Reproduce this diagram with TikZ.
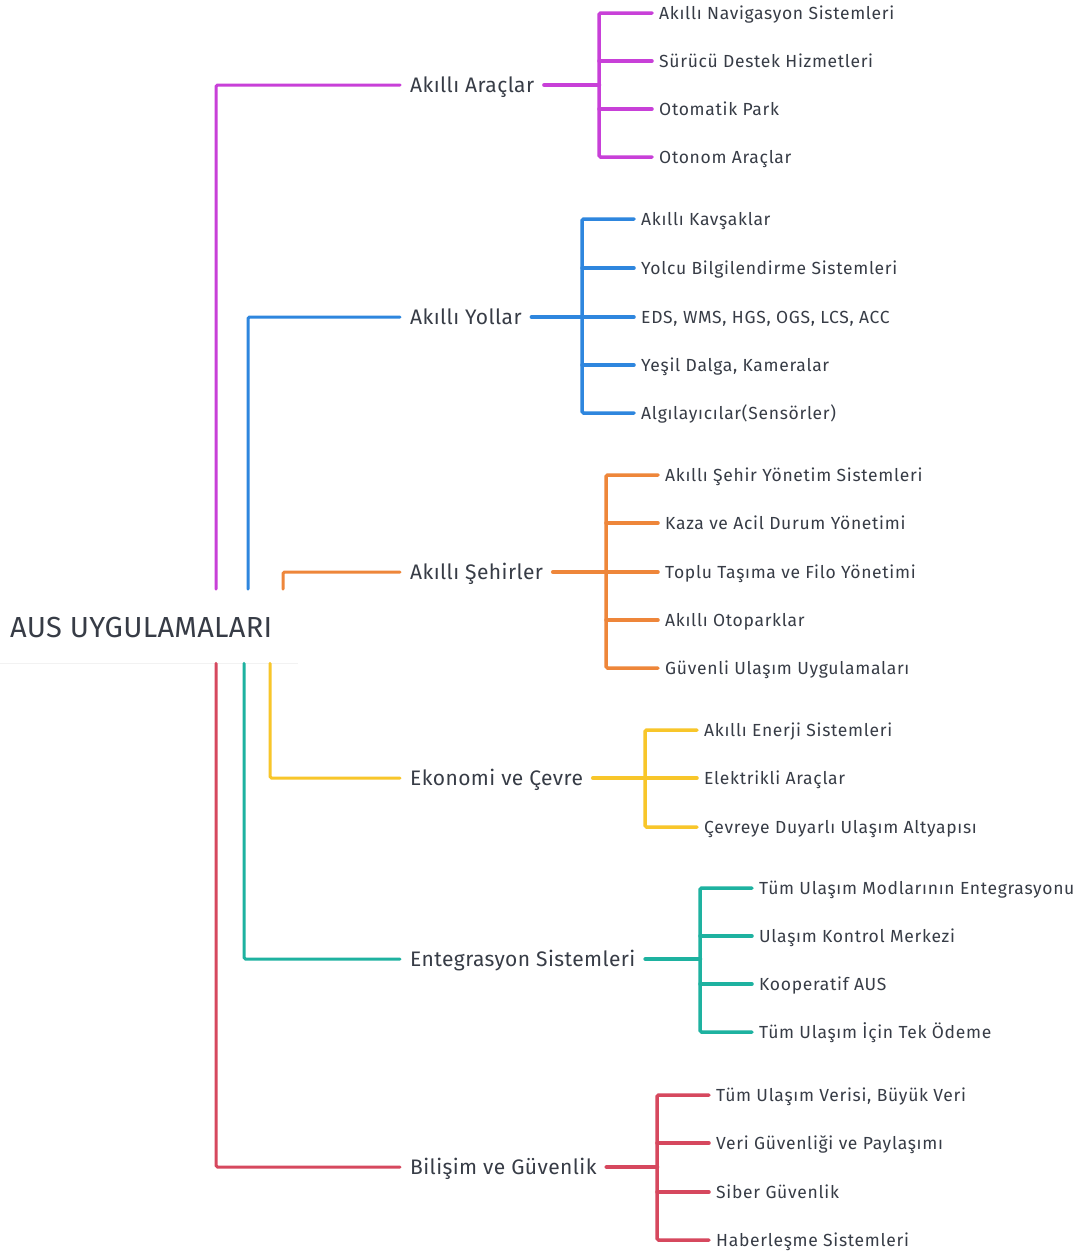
\documentclass[tikz,border=0pt]{standalone}
\usepackage{fontspec}
\setmainfont{Fira Sans}
\newfontfamily\rootfont[LetterSpace=1]{Fira Sans}
\newfontfamily\branchfont[LetterSpace=2]{Fira Sans}
\newfontfamily\leaffont[LetterSpace=4]{Fira Sans}
\definecolor{cpurple}{RGB}{200,64,216}
\definecolor{cblue}{RGB}{46,134,222}
\definecolor{corange}{RGB}{238,134,58}
\definecolor{cyellow}{RGB}{248,198,42}
\definecolor{cteal}{RGB}{30,178,160}
\definecolor{cred}{RGB}{214,72,94}
\definecolor{ink}{RGB}{55,60,70}
\tikzset{
  rootbox/.style={fill=white, anchor=north west, minimum width=298pt, minimum height=74pt,
    inner sep=0pt},
  roottext/.style={anchor=west, inner sep=0pt, text height=20pt, text depth=0pt,
    text=ink, font=\rootfont\fontsize{29}{32}\selectfont},
  branchlbl/.style={anchor=west, inner xsep=10pt, inner ysep=0pt, text height=14.5pt, text depth=0pt,
    text=ink, font=\branchfont\fontsize{21}{24}\selectfont},
  leaflbl/.style={anchor=west, inner xsep=7pt, inner ysep=0pt, text height=12pt, text depth=0pt,
    text=ink, font=\leaffont\fontsize{17.5}{20}\selectfont},
  mainline/.style={line width=3pt, rounded corners=1.5pt, line cap=round},
  stemline/.style={line width=4.5pt, line cap=round},
  forkline/.style={line width=3.5pt, rounded corners=1.5pt, line cap=round},
}
\begin{document}
\begin{tikzpicture}[x=1pt, y=-1pt]
\useasboundingbox (0,0) rectangle (1088,1256);
\fill[white] (0,0) rectangle (1088,1256);

% ---- central topic
\fill[black!5] (0,661) rectangle (298,664);
\node[rootbox] (root) at (0,589) {};
\node[roottext] (roottxt) at (10,627) {AUS UYGULAMALARI};
\coordinate (rtop) at (root.north west);
\coordinate (rbot) at (root.south west);

% ---- Akıllı Araçlar
\node[branchlbl] (b1) at (400,85) {Akıllı Araçlar};
\coordinate (j1) at (599,85);
\node[leaflbl] (l11) at (652,13)  {Akıllı Navigasyon Sistemleri};
\node[leaflbl] (l12) at (652,61)  {Sürücü Destek Hizmetleri};
\node[leaflbl] (l13) at (652,109) {Otomatik Park};
\node[leaflbl] (l14) at (652,157) {Otonom Araçlar};
\draw[mainline, cpurple] ([xshift=216pt]rtop) |- (b1.west);
\draw[stemline, cpurple] (b1.east) -- (j1);
\draw[forkline, cpurple] (l11.west) -| (j1) |- (l14.west);
\foreach \l in {l12,l13} \draw[forkline, cpurple] (j1 |- \l.west) -- (\l.west);

% ---- Akıllı Yollar
\node[branchlbl] (b2) at (400,317) {Akıllı Yollar};
\coordinate (j2) at (582,317);
\node[leaflbl] (l21) at (634,219) {Akıllı Kavşaklar};
\node[leaflbl] (l22) at (634,268) {Yolcu Bilgilendirme Sistemleri};
\node[leaflbl] (l23) at (634,317) {EDS, WMS, HGS, OGS, LCS, ACC};
\node[leaflbl] (l24) at (634,365) {Yeşil Dalga, Kameralar};
\node[leaflbl] (l25) at (634,413) {Algılayıcılar(Sensörler)};
\draw[mainline, cblue] ([xshift=248pt]rtop) |- (b2.west);
\draw[stemline, cblue] (b2.east) -- (j2);
\draw[forkline, cblue] (l21.west) -| (j2) |- (l25.west);
\foreach \l in {l22,l23,l24} \draw[forkline, cblue] (j2 |- \l.west) -- (\l.west);

% ---- Akıllı Şehirler
\node[branchlbl] (b3) at (400,572) {Akıllı Şehirler};
\coordinate (j3) at (606,572);
\node[leaflbl] (l31) at (658,475) {Akıllı Şehir Yönetim Sistemleri};
\node[leaflbl] (l32) at (658,523) {Kaza ve Acil Durum Yönetimi};
\node[leaflbl] (l33) at (658,572) {Toplu Taşıma ve Filo Yönetimi};
\node[leaflbl] (l34) at (658,620) {Akıllı Otoparklar};
\node[leaflbl] (l35) at (658,668) {Güvenli Ulaşım Uygulamaları};
\draw[mainline, corange] ([xshift=283pt]rtop) |- (b3.west);
\draw[stemline, corange] (b3.east) -- (j3);
\draw[forkline, corange] (l31.west) -| (j3) |- (l35.west);
\foreach \l in {l32,l33,l34} \draw[forkline, corange] (j3 |- \l.west) -- (\l.west);

% ---- Ekonomi ve Çevre
\node[branchlbl] (b4) at (400,778) {Ekonomi ve Çevre};
\coordinate (j4) at (645,778);
\node[leaflbl] (l41) at (697,730) {Akıllı Enerji Sistemleri};
\node[leaflbl] (l42) at (697,778) {Elektrikli Araçlar};
\node[leaflbl] (l43) at (697,827) {Çevreye Duyarlı Ulaşım Altyapısı};
\draw[mainline, cyellow] ([xshift=270pt]rbot) |- (b4.west);
\draw[stemline, cyellow] (b4.east) -- (j4);
\draw[forkline, cyellow] (l41.west) -| (j4) |- (l43.west);
\draw[forkline, cyellow] (j4 |- l42.west) -- (l42.west);

% ---- Entegrasyon Sistemleri
\node[branchlbl] (b5) at (400,959) {Entegrasyon Sistemleri};
\coordinate (j5) at (700,959);
\node[leaflbl] (l51) at (752,888)  {Tüm Ulaşım Modlarının Entegrasyonu};
\node[leaflbl] (l52) at (752,936)  {Ulaşım Kontrol Merkezi};
\node[leaflbl] (l53) at (752,984)  {Kooperatif AUS};
\node[leaflbl] (l54) at (752,1032) {Tüm Ulaşım İçin Tek Ödeme};
\draw[mainline, cteal] ([xshift=244pt]rbot) |- (b5.west);
\draw[stemline, cteal] (b5.east) -- (j5);
\draw[forkline, cteal] (l51.west) -| (j5) |- (l54.west);
\foreach \l in {l52,l53} \draw[forkline, cteal] (j5 |- \l.west) -- (\l.west);

% ---- Bilişim ve Güvenlik
\node[branchlbl] (b6) at (400,1167) {Bilişim ve Güvenlik};
\coordinate (j6) at (657,1167);
\node[leaflbl] (l61) at (709,1095) {Tüm Ulaşım Verisi, Büyük Veri};
\node[leaflbl] (l62) at (709,1143) {Veri Güvenliği ve Paylaşımı};
\node[leaflbl] (l63) at (709,1192) {Siber Güvenlik};
\node[leaflbl] (l64) at (709,1240) {Haberleşme Sistemleri};
\draw[mainline, cred] ([xshift=216pt]rbot) |- (b6.west);
\draw[stemline, cred] (b6.east) -- (j6);
\draw[forkline, cred] (l61.west) -| (j6) |- (l64.west);
\foreach \l in {l62,l63} \draw[forkline, cred] (j6 |- \l.west) -- (\l.west);
\end{tikzpicture}
\end{document}
